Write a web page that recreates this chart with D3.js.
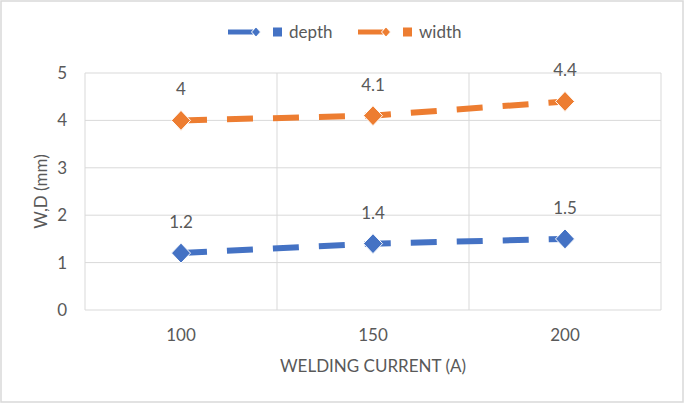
<!DOCTYPE html>
<html><head><meta charset="utf-8">
<script src="https://cdn.jsdelivr.net/npm/d3@7"></script>
<style>
html,body{margin:0;padding:0;background:#fff;}
svg text{font-family:Lato,"Open Sans",sans-serif;fill:#595959;}
</style></head>
<body><svg id="c" width="685" height="404"></svg>
<script>
const categories = ["100", "150", "200"];
const depth = [1.2, 1.4, 1.5];
const width = [4, 4.1, 4.4];
const yTicks = [0, 1, 2, 3, 4, 5];
const seriesNames = ["depth", "width"];
const colors = ["#4472C4", "#ED7D31"];

const svg = d3.select("#c");
const W = 685, H = 404;
const m = {l: 85, r: 661, t: 73, b: 310};

svg.append("rect").attr("x", 1).attr("y", 1).attr("width", W - 3).attr("height", H - 3)
  .attr("fill", "#fff").attr("stroke", "#D9D9D9").attr("stroke-width", 1.5);

const x = d3.scaleBand().domain(categories).range([m.l, m.r]);
const y = d3.scaleLinear().domain([0, 5]).range([m.b, m.t]);

// horizontal grid
svg.append("g").selectAll("line").data(yTicks).join("line")
  .attr("x1", m.l).attr("x2", m.r)
  .attr("y1", d => y(d)).attr("y2", d => y(d))
  .attr("stroke", "#D9D9D9").attr("stroke-width", 1);
// vertical grid at category boundaries
const bounds = categories.map(c => x(c)).concat([x(categories[categories.length - 1]) + x.bandwidth()]);
svg.append("g").selectAll("line").data(bounds).join("line")
  .attr("x1", d => d).attr("x2", d => d)
  .attr("y1", m.t).attr("y2", m.b)
  .attr("stroke", "#D9D9D9").attr("stroke-width", 1);

// y tick labels
const yAxis = d3.axisLeft(y).tickValues(yTicks).tickSize(0).tickPadding(18).tickFormat(d3.format("d"));
const ya = svg.append("g").attr("transform", `translate(${m.l},0)`).call(yAxis);
ya.select(".domain").remove();
ya.selectAll("text").attr("font-size", 17).attr("fill", "#595959").style("font-family", "Lato");

// x tick labels
const xAxis = d3.axisBottom(x).tickSize(0).tickPadding(19);
const xa = svg.append("g").attr("transform", `translate(0,${m.b})`).call(xAxis);
xa.select(".domain").remove();
xa.selectAll("text").attr("font-size", 17).attr("fill", "#595959").style("font-family", "Lato");

// axis titles
svg.append("text").attr("x", (m.l + m.r) / 2).attr("y", 372).attr("text-anchor", "middle")
  .attr("font-size", 17).text("WELDING CURRENT (A)");
svg.append("text").attr("transform", `translate(47,${(m.t + m.b) / 2}) rotate(-90)`)
  .attr("text-anchor", "middle").attr("font-size", 17).text("W,D (mm)");

const diamondPath = (hw, hh) => `M0,${-hh}L${hw},0L0,${hh}L${-hw},0Z`;
const cx = c => x(c) + x.bandwidth() / 2;
const series = [depth, width];

series.forEach((vals, i) => {
  const pts = categories.map((c, j) => [cx(c), y(vals[j])]);
  svg.append("path").attr("d", d3.line()(pts))
    .attr("fill", "none").attr("stroke", colors[i]).attr("stroke-width", 6)
    .attr("stroke-dasharray", "26,20");
  svg.append("g").selectAll("path").data(pts).join("path")
    .attr("transform", d => `translate(${d[0]},${d[1]})`)
    .attr("d", diamondPath(9.5, 10))
    .attr("fill", colors[i]).attr("stroke", "#fff").attr("stroke-width", 1);
  svg.append("g").selectAll("text").data(vals).join("text")
    .attr("x", (d, j) => cx(categories[j]))
    .attr("y", d => y(d) - 25)
    .attr("text-anchor", "middle").attr("font-size", 17)
    .text(d => d);
});

// legend
const legX = [228, 358];
seriesNames.forEach((n, i) => {
  const g = svg.append("g").attr("transform", `translate(${legX[i]},32)`);
  g.append("line").attr("x1", 0).attr("x2", 25).attr("y1", 0).attr("y2", 0)
    .attr("stroke", colors[i]).attr("stroke-width", 5);
  g.append("path").attr("transform", "translate(28,0)").attr("d", diamondPath(4.5, 5))
    .attr("fill", colors[i]).attr("stroke", "#fff").attr("stroke-width", 1);
  g.append("rect").attr("x", 45).attr("y", -4.5).attr("width", 9).attr("height", 9).attr("fill", colors[i]);
  g.append("text").attr("x", 61).attr("y", 0).attr("dy", "0.35em").attr("font-size", 17).text(n);
});
</script></body></html>
